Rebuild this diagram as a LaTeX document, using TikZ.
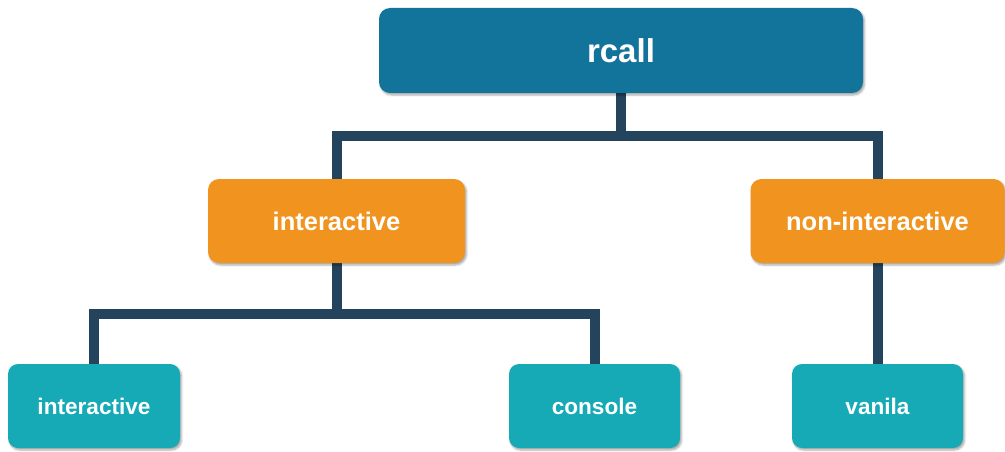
\documentclass[tikz,border=0pt]{standalone}
\usepackage{fontspec}
\setmainfont{Liberation Sans}
\usetikzlibrary{shadows.blur,backgrounds}
\definecolor{rootblue}{HTML}{12739B}
\definecolor{midorange}{HTML}{F0931F}
\definecolor{leafteal}{HTML}{15AAB6}
\definecolor{wire}{HTML}{23445C}
\tikzset{
  box/.style={rectangle, rounded corners=11pt, text=white, font=\bfseries,
    inner sep=0pt, blur shadow={shadow xshift=1.5pt, shadow yshift=-2pt,
    shadow blur steps=4, shadow blur radius=2pt, shadow opacity=35}},
  rootbox/.style={box, fill=rootblue, minimum width=484pt, minimum height=85pt,
    font=\fontsize{33}{36}\selectfont\bfseries},
  midbox/.style={box, fill=midorange, minimum height=84pt,
    font=\fontsize{25.5}{28}\selectfont\bfseries},
  leafbox/.style={box, fill=leafteal, minimum width=172pt, minimum height=84pt,
    rounded corners=10pt, font=\fontsize{22.6}{25}\selectfont\bfseries},
  wireline/.style={draw=wire, line width=10pt, line join=miter}
}
\begin{document}
\begin{tikzpicture}[x=1pt,y=1pt]
  \useasboundingbox (0,0) rectangle (1005,-452);
  % boxes
  \node[rootbox] (rcall) at (621,-50.5) {rcall};
  \node[midbox, minimum width=257pt] (inter) at (336.5,-221) {interactive};
  \node[midbox, minimum width=254pt] (noninter) at (877.5,-221) {non-interactive};
  \node[leafbox] (leafinter) at (94,-406) {interactive};
  \node[leafbox, minimum width=171pt] (console) at (594.5,-406) {console};
  \node[leafbox, minimum width=171pt] (vanila) at (877.5,-406) {vanila};
  % junction points of the tree
  \coordinate (busA) at (621,-136);
  \coordinate (busB) at (336.5,-314);
  % connectors
  \begin{scope}[on background layer]
    \draw[wireline] (rcall.south) -- (busA);
    \draw[wireline] (inter.north) |- (busA) -| (noninter.north);
    \draw[wireline] (inter.south) -- (busB);
    \draw[wireline] (leafinter.north) |- (busB) -| (console.north);
    \draw[wireline] (noninter.south) -- (vanila.north);
  \end{scope}
\end{tikzpicture}
\end{document}
